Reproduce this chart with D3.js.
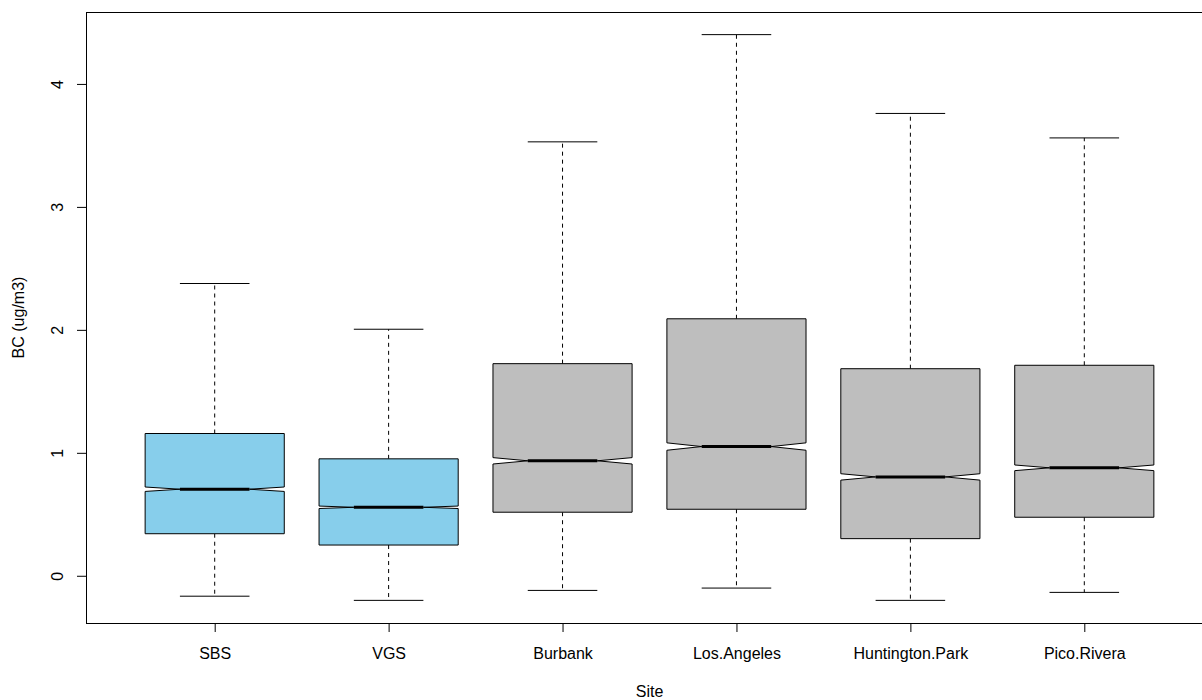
<!DOCTYPE html>
<html>
<head>
<meta charset="utf-8">
<script src="https://cdn.jsdelivr.net/npm/d3@7"></script>
<style>
  body { margin: 0; background: #fff; }
  svg { display: block; }
  text { font-family: "Liberation Sans", Arial, sans-serif; fill: #000; }
</style>
</head>
<body>
<div id="chart"></div>
<script>
// Box statistics (BC, ug/m3)
var sites = ["SBS", "VGS", "Burbank", "Los.Angeles", "Huntington.Park", "Pico.Rivera"];
var whiskerLow = [-0.166, -0.200, -0.119, -0.100, -0.200, -0.135];
var q1 = [0.342, 0.250, 0.517, 0.541, 0.302, 0.476];
var median = [0.704, 0.557, 0.935, 1.051, 0.804, 0.878];
var q3 = [1.157, 0.951, 1.725, 2.090, 1.684, 1.712];
var whiskerHigh = [2.377, 2.005, 3.529, 4.401, 3.760, 3.561];
var notchLow = [0.686, 0.547, 0.909, 1.021, 0.778, 0.855];
var notchHigh = [0.722, 0.567, 0.961, 1.081, 0.830, 0.901];
var yTicks = [0, 1, 2, 3, 4];

var width = 1202, height = 700;
var margin = { top: 12, right: -11, bottom: 77, left: 86 };  // right edge of the plot is cut off in the reference
var fontSize = 16;

var data = sites.map(function (s, i) {
    return {
        site: s, pos: i + 1,
        lo: whiskerLow[i], q1: q1[i], med: median[i], q3: q3[i], hi: whiskerHigh[i],
        nlo: notchLow[i], nhi: notchHigh[i]
    };
});

// R style: xlim = (0.5, n + 0.5) widened by 4%, same for ylim over the data range
var xlim = [0.5, sites.length + 0.5];
var xpad = (xlim[1] - xlim[0]) * 0.04;
var x = d3.scaleLinear([xlim[0] - xpad, xlim[1] + xpad], [margin.left, width - margin.right]);

var ymin = d3.min(whiskerLow), ymax = d3.max(whiskerHigh);
var ypad = (ymax - ymin) * 0.04;
var y = d3.scaleLinear([ymin - ypad, ymax + ypad], [height - margin.bottom, margin.top]);

var colour = d3.scaleOrdinal().domain(sites)
    .range(["#87CEEB", "#87CEEB", "#BEBEBE", "#BEBEBE", "#BEBEBE", "#BEBEBE"]);

var boxHalf = 0.4, capHalf = 0.2;

const svg = d3.select("#chart")
    .append("svg")
    .attr("width", width)
    .attr("height", height);

// Whiskers (dashed) and staples
var boxes = svg.append("g")
    .selectAll("g")
    .data(data)
    .join("g");

boxes.append("line")
    .attr("x1", d => x(d.pos)).attr("x2", d => x(d.pos))
    .attr("y1", d => y(d.q3)).attr("y2", d => y(d.hi))
    .attr("stroke", "#000").attr("stroke-dasharray", "4,4");
boxes.append("line")
    .attr("x1", d => x(d.pos)).attr("x2", d => x(d.pos))
    .attr("y1", d => y(d.q1)).attr("y2", d => y(d.lo))
    .attr("stroke", "#000").attr("stroke-dasharray", "4,4");
boxes.append("line")
    .attr("x1", d => x(d.pos - capHalf)).attr("x2", d => x(d.pos + capHalf))
    .attr("y1", d => y(d.hi)).attr("y2", d => y(d.hi))
    .attr("stroke", "#000");
boxes.append("line")
    .attr("x1", d => x(d.pos - capHalf)).attr("x2", d => x(d.pos + capHalf))
    .attr("y1", d => y(d.lo)).attr("y2", d => y(d.lo))
    .attr("stroke", "#000");

// Notched box
boxes.append("path")
    .attr("d", d => {
        var l = d.pos - boxHalf, r = d.pos + boxHalf;
        var li = d.pos - boxHalf / 2, ri = d.pos + boxHalf / 2;
        var pts = [[l, d.q1], [l, d.nlo], [li, d.med], [l, d.nhi], [l, d.q3],
                   [r, d.q3], [r, d.nhi], [ri, d.med], [r, d.nlo], [r, d.q1]];
        return "M" + pts.map(p => x(p[0]) + "," + y(p[1])).join("L") + "Z";
    })
    .attr("fill", d => colour(d.site))
    .attr("stroke", "#000")
    .attr("stroke-width", 1);

// Median
boxes.append("line")
    .attr("x1", d => x(d.pos - boxHalf / 2)).attr("x2", d => x(d.pos + boxHalf / 2))
    .attr("y1", d => y(d.med)).attr("y2", d => y(d.med))
    .attr("stroke", "#000").attr("stroke-width", 3);

// Axes
var xAxis = svg.append("g")
    .attr("transform", `translate(0,${height - margin.bottom})`)
    .call(d3.axisBottom(x).tickValues(data.map(d => d.pos)).tickFormat((d, i) => sites[i]).tickSize(9).tickSizeOuter(0));
xAxis.select(".domain").remove();
xAxis.selectAll("text")
    .attr("y", 36).attr("dy", 0)
    .attr("font-size", fontSize);

var yAxis = svg.append("g")
    .attr("transform", `translate(${margin.left},0)`)
    .call(d3.axisLeft(y).tickValues(yTicks).tickFormat(d3.format("d")).tickSize(9).tickSizeOuter(0));
yAxis.select(".domain").remove();
yAxis.selectAll("text")
    .attr("x", 0).attr("y", -23).attr("dy", 0)
    .attr("transform", "rotate(-90)")
    .attr("text-anchor", "middle")
    .attr("font-size", fontSize);
svg.selectAll(".tick line").attr("stroke", "#000");
svg.selectAll(".tick text").attr("fill", "#000").attr("font-family", "Liberation Sans, Arial, sans-serif");

// Plot frame
svg.append("rect")
    .attr("x", margin.left + 0.5).attr("y", margin.top + 0.5)
    .attr("width", width - margin.right - margin.left)
    .attr("height", height - margin.bottom - margin.top)
    .attr("fill", "none").attr("stroke", "#000");

// Axis titles
svg.append("text")
    .attr("x", (x.range()[0] + x.range()[1]) / 2)
    .attr("y", 697)
    .attr("text-anchor", "middle")
    .attr("font-size", fontSize)
    .text("Site");

svg.append("text")
    .attr("transform", `translate(24,${(margin.top + height - margin.bottom) / 2}) rotate(-90)`)
    .attr("text-anchor", "middle")
    .attr("font-size", fontSize)
    .text("BC (ug/m3)");
</script>
</body>
</html>
